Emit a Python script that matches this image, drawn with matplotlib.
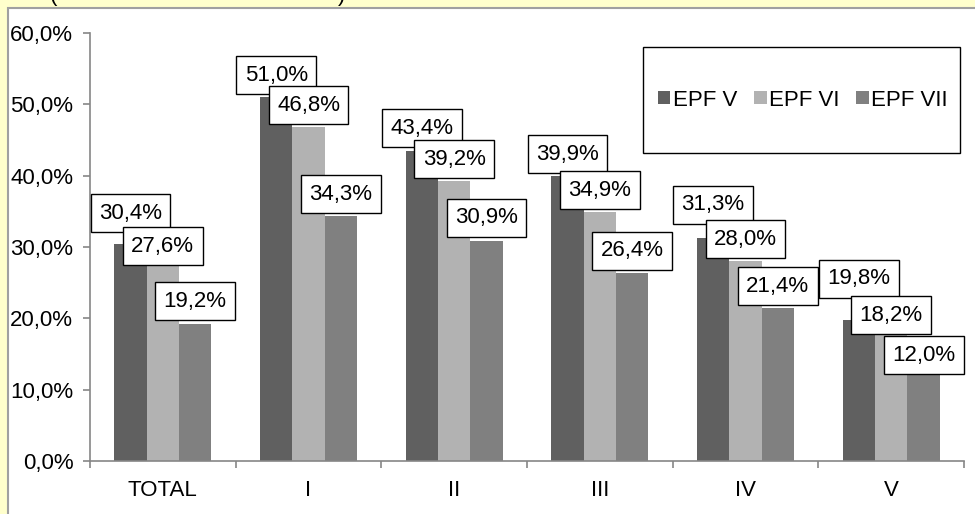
import matplotlib.pyplot as plt
from matplotlib.patches import Rectangle
from matplotlib.ticker import FuncFormatter, FixedLocator
import numpy as np

plt.rcParams['font.family'] = ['Liberation Sans', 'DejaVu Sans']

categories = ['TOTAL', 'I', 'II', 'III', 'IV', 'V']
series_names = ['EPF V', 'EPF VI', 'EPF VII']
epf_v = [30.4, 51.0, 43.4, 39.9, 31.3, 19.8]
epf_vi = [27.6, 46.8, 39.2, 34.9, 28.0, 18.2]
epf_vii = [19.2, 34.3, 30.9, 26.4, 21.4, 12.0]
series_values = [epf_v, epf_vi, epf_vii]
colors = ['#606060', '#b2b2b2', '#808080']

# how far (px) each value box sits above its bar, nudged where boxes would collide
label_lift = [
    [31, 22, 23, 22, 33, 41],
    [18, 22, 22, 22, 22, 16],
    [23, 22, 23, 22, 22, 20],
]

W, H = 975, 514
fig = plt.figure(figsize=(W / 100, H / 100), dpi=100, facecolor='#ffffcc')

# white chart panel with grey outline on the yellow page
panel = Rectangle((8 / W, -0.05), 1.0, 1.05 - 8 / H, transform=fig.transFigure,
                  facecolor='white', edgecolor='#a0a0a0', linewidth=1.5, zorder=-1)
fig.add_artist(panel)

# tail of the heading that sits above the panel
fig.text(50 / W, 1 - 1 / H, '(', fontsize=16, va='baseline', ha='left')
fig.text(338 / W, 1 - 1 / H, ')', fontsize=16, va='baseline', ha='left')

ax = fig.add_axes([90 / W, 53 / H, 874 / W, 428 / H])
ax.set_facecolor('none')

x = np.arange(len(categories))
bar_w = 2 / 9
for i, (vals, col) in enumerate(zip(series_values, colors)):
    pos = x + (i - 1) * bar_w
    bars = ax.bar(pos, vals, width=bar_w, color=col, label=series_names[i],
                  linewidth=0)
    for b, v, lift in zip(bars, vals, label_lift[i]):
        ax.annotate(f'{v:.1f}%'.replace('.', ','),
                    (b.get_x() + b.get_width() / 2, v),
                    xytext=(0, lift * 0.72), textcoords='offset points',
                    ha='center', va='center', fontsize=16,
                    bbox=dict(boxstyle='square,pad=0.38', facecolor='white',
                              edgecolor='black', linewidth=1.0))

ax.set_xlim(-0.5, len(categories) - 0.5)
ax.set_ylim(0, 60)
ax.set_yticks(np.arange(0, 61, 10))
ax.yaxis.set_major_formatter(FuncFormatter(lambda v, p: f'{v:.1f}%'.replace('.', ',')))
ax.set_xticks(x)
ax.set_xticklabels(categories)
ax.xaxis.set_minor_locator(FixedLocator(np.arange(-0.5, len(categories), 1)))

axis_grey = '#868686'
for side in ['top', 'right']:
    ax.spines[side].set_visible(False)
for side in ['left', 'bottom']:
    ax.spines[side].set_color(axis_grey)
    ax.spines[side].set_linewidth(1.2)

ax.tick_params(axis='y', direction='out', length=5, width=1.2, color=axis_grey,
               labelsize=16, pad=7)
ax.tick_params(axis='x', which='major', length=0, labelsize=16, pad=14)
ax.tick_params(axis='x', which='minor', direction='out', length=5, width=1.2,
               color=axis_grey)

# legend box
frame = Rectangle((643 / W, 1 - 153 / H), 317 / W, 106 / H, transform=fig.transFigure,
                  facecolor='white', edgecolor='black', linewidth=1.0, zorder=4)
fig.add_artist(frame)
handles, labels = ax.get_legend_handles_labels()
leg = fig.legend(handles, labels, loc='center', bbox_to_anchor=(803 / W, 1 - 100 / H),
                 ncol=3, frameon=False, fontsize=16, handlelength=0.56,
                 handleheight=0.56, handletextpad=0.12, columnspacing=0.75,
                 borderpad=0)
leg.set_zorder(5)

fig.savefig('out.png', dpi=100, facecolor=fig.get_facecolor())
